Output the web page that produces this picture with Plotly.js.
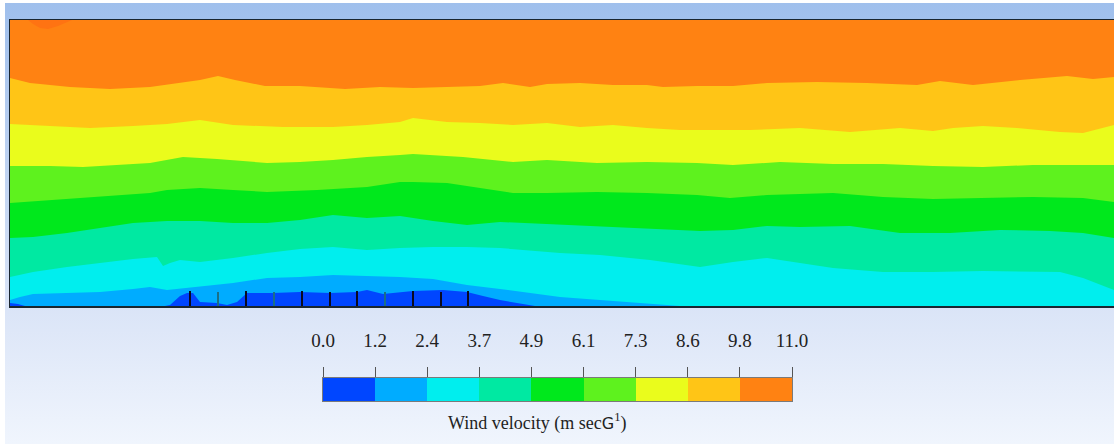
<!DOCTYPE html>
<html>
<head>
<meta charset="utf-8">
<script src="https://cdn.plot.ly/plotly-3.0.1.min.js"></script>
<style>
  html, body { margin: 0; padding: 0; background: #ffffff; }
  #chart {
    width: 1114px; height: 444px;
    background:
      linear-gradient(#ffffff, #ffffff) top left / 100% 3px no-repeat,
      linear-gradient(#ffffff, #ffffff) top left / 5px 100% no-repeat,
      linear-gradient(to bottom, #9fbfec 0px, #a2c1ed 20px, #dae4f7 306px, #f0f5fd 444px);
  }
</style>
</head>
<body>
<div id="chart"></div>
<script>
// ---- Data ----
// horizontal distance (arbitrary units) and height above ground (arbitrary units)
// contour level boundaries of wind velocity (m/s)
const levels = [0, 1.222, 2.444, 3.667, 4.889, 6.111, 7.333, 8.556, 9.778, 11.0];
const bandColors = ['#0046ff', '#00acff', '#00eeee', '#00e9a2', '#00e81c', '#5ef21e', '#eafc1c', '#ffc516', '#ff8212'];
const peakColor = '#ff7312';

// domain extent
const domainX = [10, 1114];
const domainTop = 286;

// boundary 11.0 local peak (small darker patch at top-left)
const peakX = [28, 33, 40, 48, 58, 66, 72];
const peakH = [286, 282, 278, 277, 280, 283, 286];

// boundary 9.8 (orange / gold)
const b9X = [10, 30, 70, 110, 150, 200, 218, 235, 265, 300, 345, 380, 413, 447, 480, 503, 530, 547, 580, 613, 647, 663, 697, 733, 767, 817, 867, 917, 940, 973, 1000, 1020, 1067, 1093, 1114];
const b9H = [228, 223, 219, 217, 219, 226, 230, 226, 220, 220, 217, 219, 218, 219, 220, 223, 219, 222, 223, 221, 221, 219, 220, 220, 223, 224, 223, 221, 225, 221, 224, 226, 230, 227, 229];

// boundary 8.6 (gold / yellow)
const b8X = [10, 33, 90, 133, 167, 200, 233, 283, 333, 367, 400, 413, 447, 480, 513, 547, 580, 613, 647, 680, 713, 750, 800, 850, 900, 933, 953, 983, 1017, 1060, 1083, 1114];
const b8H = [182, 181, 178, 180, 182, 186, 181, 179, 179, 181, 184, 188, 184, 183, 181, 183, 179, 181, 178, 176, 176, 176, 178, 174, 178, 175, 178, 180, 178, 174, 173, 181];

// boundary 7.3 (yellow / light green)
const b7X = [10, 50, 83, 117, 150, 183, 217, 267, 300, 333, 367, 400, 413, 463, 513, 547, 597, 647, 697, 733, 780, 833, 883, 933, 983, 1033, 1067, 1114];
const b7H = [140, 140, 139, 141, 143, 149, 147, 143, 144, 146, 149, 151, 152, 149, 144, 146, 143, 144, 143, 141, 144, 142, 142, 140, 139, 141, 141, 141];

// boundary 6.1 (light green / green)
const b6X = [10, 50, 100, 150, 167, 200, 233, 267, 317, 367, 400, 413, 447, 480, 513, 547, 597, 647, 697, 730, 767, 833, 883, 933, 983, 1033, 1083, 1114];
const b6H = [103, 106, 109, 113, 116, 118, 116, 114, 116, 119, 124, 124, 123, 118, 113, 113, 114, 113, 111, 108, 111, 113, 109, 107, 108, 109, 108, 104];

// boundary 4.9 (green / teal)
const b5X = [10, 33, 67, 133, 167, 200, 233, 267, 300, 333, 367, 400, 433, 467, 500, 523, 560, 600, 650, 700, 733, 767, 800, 850, 900, 950, 1000, 1050, 1083, 1114];
const b5H = [68, 69, 73, 83, 85, 85, 83, 83, 86, 91, 88, 90, 85, 81, 84, 83, 81, 79, 77, 75, 76, 80, 79, 80, 73, 73, 76, 75, 73, 68];

// boundary 3.7 (teal / cyan)
const b4X = [10, 33, 67, 100, 133, 157, 163, 170, 180, 200, 233, 267, 300, 333, 367, 400, 433, 467, 500, 523, 560, 600, 650, 700, 733, 767, 800, 833, 883, 933, 983, 1033, 1060, 1083, 1114];
const b4H = [29, 34, 39, 43, 47, 49, 40, 43, 46, 44, 48, 53, 57, 59, 56, 58, 59, 59, 58, 56, 53, 51, 46, 39, 44, 48, 43, 38, 34, 34, 35, 34, 34, 28, 16];

// boundary 2.4 (cyan / light blue)
const b3X = [10, 20, 33, 67, 100, 133, 150, 167, 187, 200, 233, 267, 300, 333, 367, 400, 433, 467, 500, 523, 560, 600, 640, 665, 680];
const b3H = [6, 9, 12, 13, 14, 17, 19, 16, 18, 19, 23, 28, 29, 31, 30, 29, 27, 21, 17, 14, 9, 6, 3, 1, 0];

// boundary 1.2 (light blue / blue)
const b2X = [10, 18, 25, 165, 170, 180, 187, 193, 200, 217, 227, 237, 247, 273, 300, 330, 357, 367, 383, 413, 443, 467, 483, 500, 517, 527, 535];
const b2H = [3, 2, 0, 0, 1, 10, 13, 13, 4, 3, 1, 4, 13, 13, 14, 13, 14, 16, 12, 15, 16, 14, 10, 6, 3, 1, 0];

// wind turbines (position, hub height, tone)
const turbX = [190, 218, 246, 274, 302, 330, 357, 385, 413, 441, 468];
const turbH = [15, 14, 15, 14, 15, 14, 15, 14, 15, 14, 15];
const turbDark = [true, false, true, false, true, true, true, false, true, true, true];

const cbTitle = 'Wind velocity (m sec<span style="font-family:DejaVu Sans;font-size:16px">G</span><sup>1</sup>)';

// ---- Traces ----
function band(x, h, color) {
  return { type: 'scatter', mode: 'lines', x: x, y: h, fill: 'tozeroy',
           fillcolor: color, line: { width: 0, color: color }, hoverinfo: 'skip',
           xaxis: 'x', yaxis: 'y' };
}
const traces = [];
traces.push(band(domainX, [domainTop, domainTop], bandColors[8]));
traces.push({ type: 'scatter', mode: 'lines', x: peakX, y: peakH, fill: 'toself',
              fillcolor: peakColor, line: { width: 0, color: peakColor }, hoverinfo: 'skip' });
traces.push(band(b9X, b9H, bandColors[7]));
traces.push(band(b8X, b8H, bandColors[6]));
traces.push(band(b7X, b7H, bandColors[5]));
traces.push(band(b6X, b6H, bandColors[4]));
traces.push(band(b5X, b5H, bandColors[3]));
traces.push(band(b4X, b4H, bandColors[2]));
traces.push(band(b3X, b3H, bandColors[1]));
traces.push(band(b2X, b2H, bandColors[0]));

function turbineTrace(dark, color) {
  const x = [], y = [];
  turbX.forEach((tx, i) => {
    if (turbDark[i] === dark) { x.push(tx, tx, null); y.push(0, turbH[i], null); }
  });
  return { type: 'scatter', mode: 'lines', x: x, y: y, line: { width: 2, color: color },
           hoverinfo: 'skip', connectgaps: false };
}
traces.push(turbineTrace(true, '#0a0a1e'));
traces.push(turbineTrace(false, '#1b6f86'));

// colour bar as a one-row heatmap
const zRow = [bandColors.map((c, i) => i)];
const cscale = bandColors.map((c, i) => [i / (bandColors.length - 1), c]);
traces.push({ type: 'heatmap', x: levels, y: [0, 1], z: zRow, zmin: 0, zmax: bandColors.length - 1,
              colorscale: cscale, showscale: false, hoverinfo: 'skip', xaxis: 'x2', yaxis: 'y2' });

const W = 1114, H = 444;
const layout = {
  width: W, height: H,
  margin: { l: 0, r: 0, t: 0, b: 0, pad: 0 },
  paper_bgcolor: 'rgba(0,0,0,0)',
  plot_bgcolor: 'rgba(0,0,0,0)',
  showlegend: false,
  font: { family: 'Liberation Serif', size: 19, color: '#222' },
  xaxis: { domain: [10 / W, 1], range: domainX, showgrid: false, zeroline: false,
           showticklabels: false, ticks: '', showline: true, mirror: true,
           linecolor: '#1a2630', linewidth: 1.5, fixedrange: true },
  yaxis: { domain: [1 - 306 / H, 1 - 20 / H], range: [0, domainTop], showgrid: false, zeroline: false,
           showticklabels: false, ticks: '', showline: true, mirror: false,
           linecolor: '#1a2630', linewidth: 1.5, fixedrange: true },
  xaxis2: { domain: [323 / W, 792 / W], range: [levels[0], levels[levels.length - 1]], anchor: 'y2',
            side: 'top', tickvals: levels, tickformat: '.1f', ticks: 'outside', ticklen: 10,
            tickwidth: 1, tickcolor: '#555', showline: true, mirror: true, linecolor: '#7a7a7a',
            linewidth: 1, showgrid: false, zeroline: false, ticklabelstandoff: 12,
            tickfont: { family: 'Liberation Serif', size: 19, color: '#222' }, fixedrange: true },
  yaxis2: { domain: [1 - 401 / H, 1 - 378 / H], range: [0, 1], anchor: 'x2', showgrid: false,
            zeroline: false, showticklabels: false, ticks: '', showline: true, mirror: true,
            linecolor: '#7a7a7a', linewidth: 1, fixedrange: true },
  annotations: [{
    text: cbTitle, xref: 'paper', yref: 'paper', x: 446 / W, y: 1 - 422 / H,
    xanchor: 'left', yanchor: 'middle', showarrow: false,
    font: { family: 'Liberation Serif', size: 18, color: '#222' }
  }]
};

Plotly.newPlot('chart', traces, layout, { staticPlot: true, displayModeBar: false });
</script>
</body>
</html>
